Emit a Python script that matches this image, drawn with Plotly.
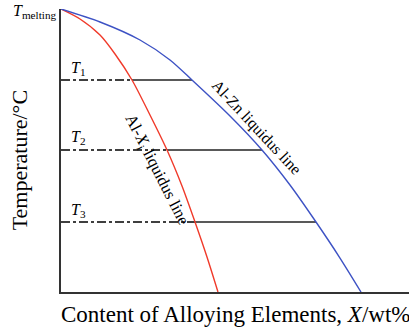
import numpy as np
import plotly.graph_objects as go

# Curve data (content X in %, temperature in % of range)
alx_x = [0, 5.46, 11.21, 15.52, 20.40, 25.57, 30.46, 34.77, 38.51, 41.95, 45.11]
alx_y = [100, 96.47, 90.81, 84.10, 74.91, 62.54, 50.18, 37.46, 24.73, 12.37, 0]
alzn_x = [0, 11.21, 22.70, 31.32, 37.64, 48.56, 57.76, 65.80, 73.28, 80.17, 86.21]
alzn_y = [100, 95.41, 89.05, 81.98, 74.91, 62.19, 50.18, 37.81, 24.73, 12.01, 0]

t_levels = [74.91, 50.18, 24.73]
t_names = ["1", "2", "3"]

SERIF = "Liberation Serif"

fig = go.Figure()

# horizontal isotherms
for lvl in t_levels:
    xr = float(np.interp(lvl, alx_y[::-1], alx_x[::-1]))
    xb = float(np.interp(lvl, alzn_y[::-1], alzn_x[::-1]))
    fig.add_trace(go.Scatter(x=[0, xr], y=[lvl, lvl], mode="lines",
                             line=dict(color="black", width=1.3, dash="dashdot"),
                             showlegend=False, hoverinfo="skip"))
    fig.add_trace(go.Scatter(x=[xr, xb], y=[lvl, lvl], mode="lines",
                             line=dict(color="#222222", width=1.6),
                             showlegend=False, hoverinfo="skip"))

fig.add_trace(go.Scatter(x=alx_x, y=alx_y, mode="lines", line_shape="spline",
                         line=dict(color="#f03a2a", width=1.4, smoothing=0.8), showlegend=False))
fig.add_trace(go.Scatter(x=alzn_x, y=alzn_y, mode="lines", line_shape="spline",
                         line=dict(color="#3d52c4", width=1.4, smoothing=0.8), showlegend=False))

ann = []
for lvl, n in zip(t_levels, t_names):
    ann.append(dict(x=2.3, y=lvl, xref="x", yref="y", xanchor="left", yanchor="middle",
                    yshift=12, showarrow=False,
                    text="<i>T</i><sub>%s</sub>" % n,
                    font=dict(family=SERIF, size=16, color="black")))

ann.append(dict(x=-0.009, y=100, xref="paper", yref="y", xanchor="right", yanchor="middle",
                yshift=-2, showarrow=False, text="<i>T</i><sub>melting</sub>",
                font=dict(family=SERIF, size=16, color="black")))

ann.append(dict(x=56.3, y=58.0, xref="x", yref="y", showarrow=False, textangle=47,
                text="Al-Zn liquidus line",
                font=dict(family=SERIF, size=16, color="black")))
ann.append(dict(x=27.4, y=43.3, xref="x", yref="y", showarrow=False, textangle=63,
                text="Al-<i>X</i><sub>i</sub> liquidus line",
                font=dict(family=SERIF, size=16.5, color="black")))

ann.append(dict(x=0.5, y=-0.078, xref="paper", yref="paper", xanchor="center", yanchor="middle",
                showarrow=False, text="Content of Alloying Elements, <i>X</i>/wt%",
                font=dict(family=SERIF, size=23, color="black")))
ann.append(dict(x=-0.12, y=0.466, xref="paper", yref="paper", xanchor="center", yanchor="middle",
                showarrow=False, textangle=-90, text="Temperature/°C",
                font=dict(family=SERIF, size=22, color="black")))

fig.update_layout(
    width=409, height=329,
    margin=dict(l=61, r=0, t=9, b=37),
    paper_bgcolor="white", plot_bgcolor="white",
    annotations=ann,
    xaxis=dict(range=[0, 100], showgrid=False, zeroline=False, showticklabels=False,
               ticks="", showline=True, linecolor="#333333", linewidth=1.6),
    yaxis=dict(range=[0, 100], showgrid=False, zeroline=False, showticklabels=False,
               ticks="", showline=True, linecolor="#333333", linewidth=1.6),
)

fig.write_html("out.html")
